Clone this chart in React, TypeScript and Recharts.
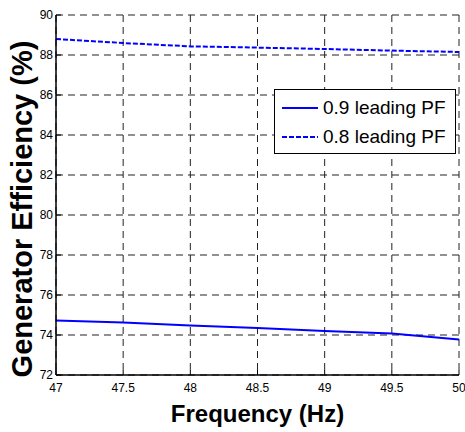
import React from 'react';
import { LineChart, Line, XAxis, YAxis, CartesianGrid, Label } from 'recharts';

const freq = [47, 47.5, 48, 48.5, 49, 49.5, 50];
const pf09 = [74.73, 74.62, 74.47, 74.35, 74.2, 74.08, 73.77];
const pf08 = [88.8, 88.6, 88.43, 88.37, 88.3, 88.22, 88.15];
const xTicks = [47, 47.5, 48, 48.5, 49, 49.5, 50];
const yTicks = [72, 74, 76, 78, 80, 82, 84, 86, 88, 90];
const seriesNames = ['0.9 leading PF', '0.8 leading PF'];

const data = freq.map((f, i) => ({ f, a: pf09[i], b: pf08[i] }));

const FONT = '"Liberation Sans", Arial, sans-serif';
const TL = 5;

const BottomTick = (p: any) => (
  <g>
    <line x1={p.x} x2={p.x} y1={p.y} y2={p.y - TL} stroke="#000" strokeWidth={1} />
    <text x={p.x} y={p.y + 17} textAnchor="middle" fontSize={12} fontFamily={FONT} fill="#000">
      {p.payload.value}
    </text>
  </g>
);
const TopTick = (p: any) => (
  <line x1={p.x} x2={p.x} y1={p.y} y2={p.y + TL} stroke="#000" strokeWidth={1} />
);
const LeftTick = (p: any) => (
  <g>
    <line x1={p.x} x2={p.x + TL} y1={p.y} y2={p.y} stroke="#000" strokeWidth={1} />
    <text x={p.x - 3} y={p.y + 4} textAnchor="end" fontSize={12} fontFamily={FONT} fill="#000">
      {p.payload.value}
    </text>
  </g>
);
const RightTick = (p: any) => (
  <line x1={p.x} x2={p.x - TL} y1={p.y} y2={p.y} stroke="#000" strokeWidth={1} />
);

const LegendBox = () => (
  <div
    style={{
      position: 'absolute',
      left: 274,
      top: 89,
      border: '1px solid #000',
      background: '#fff',
      width: 182,
      height: 65,
      boxSizing: 'border-box',
      fontFamily: FONT,
      fontSize: 19,
      color: '#000',
      padding: '3px 0 0 6px',
    }}
  >
    {seriesNames.map((n, i) => (
      <div key={n} style={{ display: 'flex', alignItems: 'center', height: 29 }}>
        <svg width={38} height={10} style={{ marginRight: 4 }}>
          <line
            x1={1}
            x2={37}
            y1={5}
            y2={5}
            stroke="#0000ff"
            strokeWidth={2}
            strokeDasharray={i === 1 ? '5 2' : undefined}
          />
        </svg>
        <span>{n}</span>
      </div>
    ))}
  </div>
);

export default function App() {
  return (
    <div style={{ position: 'absolute', left: 0, top: 0, width: 465, height: 432, background: '#fff' }}>
      <LineChart width={465} height={432} data={data} margin={{ top: 15, right: 6, left: 0, bottom: 0 }}>
        <CartesianGrid stroke="#222" strokeDasharray="7 5" strokeWidth={1} xAxisId="b" yAxisId="l" />
        <XAxis
          xAxisId="b"
          dataKey="f"
          type="number"
          domain={[47, 50]}
          ticks={xTicks}
          interval={0}
          height={57}
          tickSize={0}
          tickMargin={0}
          tickLine={false}
          tick={<BottomTick />}
          axisLine={{ stroke: '#000', strokeWidth: 1.5 }}
        >
          <Label
            content={(p: any) => {
              const vb = p.viewBox;
              return (
                <text
                  x={vb.x + vb.width / 2}
                  y={vb.y + 47}
                  textAnchor="middle"
                  fontSize={24}
                  fontWeight="bold"
                  fontFamily={FONT}
                  fill="#000"
                >
                  Frequency (Hz)
                </text>
              );
            }}
          />
        </XAxis>
        <XAxis
          xAxisId="t"
          orientation="top"
          dataKey="f"
          type="number"
          domain={[47, 50]}
          ticks={xTicks}
          interval={0}
          height={0}
          tickSize={0}
          tickMargin={0}
          tickLine={false}
          tick={<TopTick />}
          axisLine={{ stroke: '#000', strokeWidth: 1.5 }}
        />
        <YAxis
          yAxisId="l"
          type="number"
          domain={[72, 90]}
          ticks={yTicks}
          interval={0}
          width={56}
          tickSize={0}
          tickMargin={0}
          tickLine={false}
          tick={<LeftTick />}
          axisLine={{ stroke: '#000', strokeWidth: 1.5 }}
        >
          <Label
            content={(p: any) => {
              const vb = p.viewBox;
              const cx = vb.x + 22;
              const cy = vb.y + vb.height / 2 + 14;
              return (
                <text
                  x={cx}
                  y={cy}
                  transform={`rotate(-90, ${cx}, ${cy})`}
                  textAnchor="middle"
                  dominantBaseline="central"
                  fontSize={29}
                  fontWeight="bold"
                  fontFamily={FONT}
                  fill="#000"
                >
                  Generator Efficiency (%)
                </text>
              );
            }}
          />
        </YAxis>
        <YAxis
          yAxisId="r"
          orientation="right"
          type="number"
          domain={[72, 90]}
          ticks={yTicks}
          interval={0}
          width={0}
          tickSize={0}
          tickMargin={0}
          tickLine={false}
          tick={<RightTick />}
          axisLine={{ stroke: '#000', strokeWidth: 2 }}
        />
        <Line
          xAxisId="b"
          yAxisId="l"
          dataKey="a"
          name={seriesNames[0]}
          stroke="#0000ff"
          strokeWidth={2}
          dot={false}
          isAnimationActive={false}
        />
        <Line
          xAxisId="b"
          yAxisId="l"
          dataKey="b"
          name={seriesNames[1]}
          stroke="#0000ff"
          strokeWidth={2}
          strokeDasharray="5 2"
          dot={false}
          isAnimationActive={false}
        />
      </LineChart>
      <LegendBox />
    </div>
  );
}
